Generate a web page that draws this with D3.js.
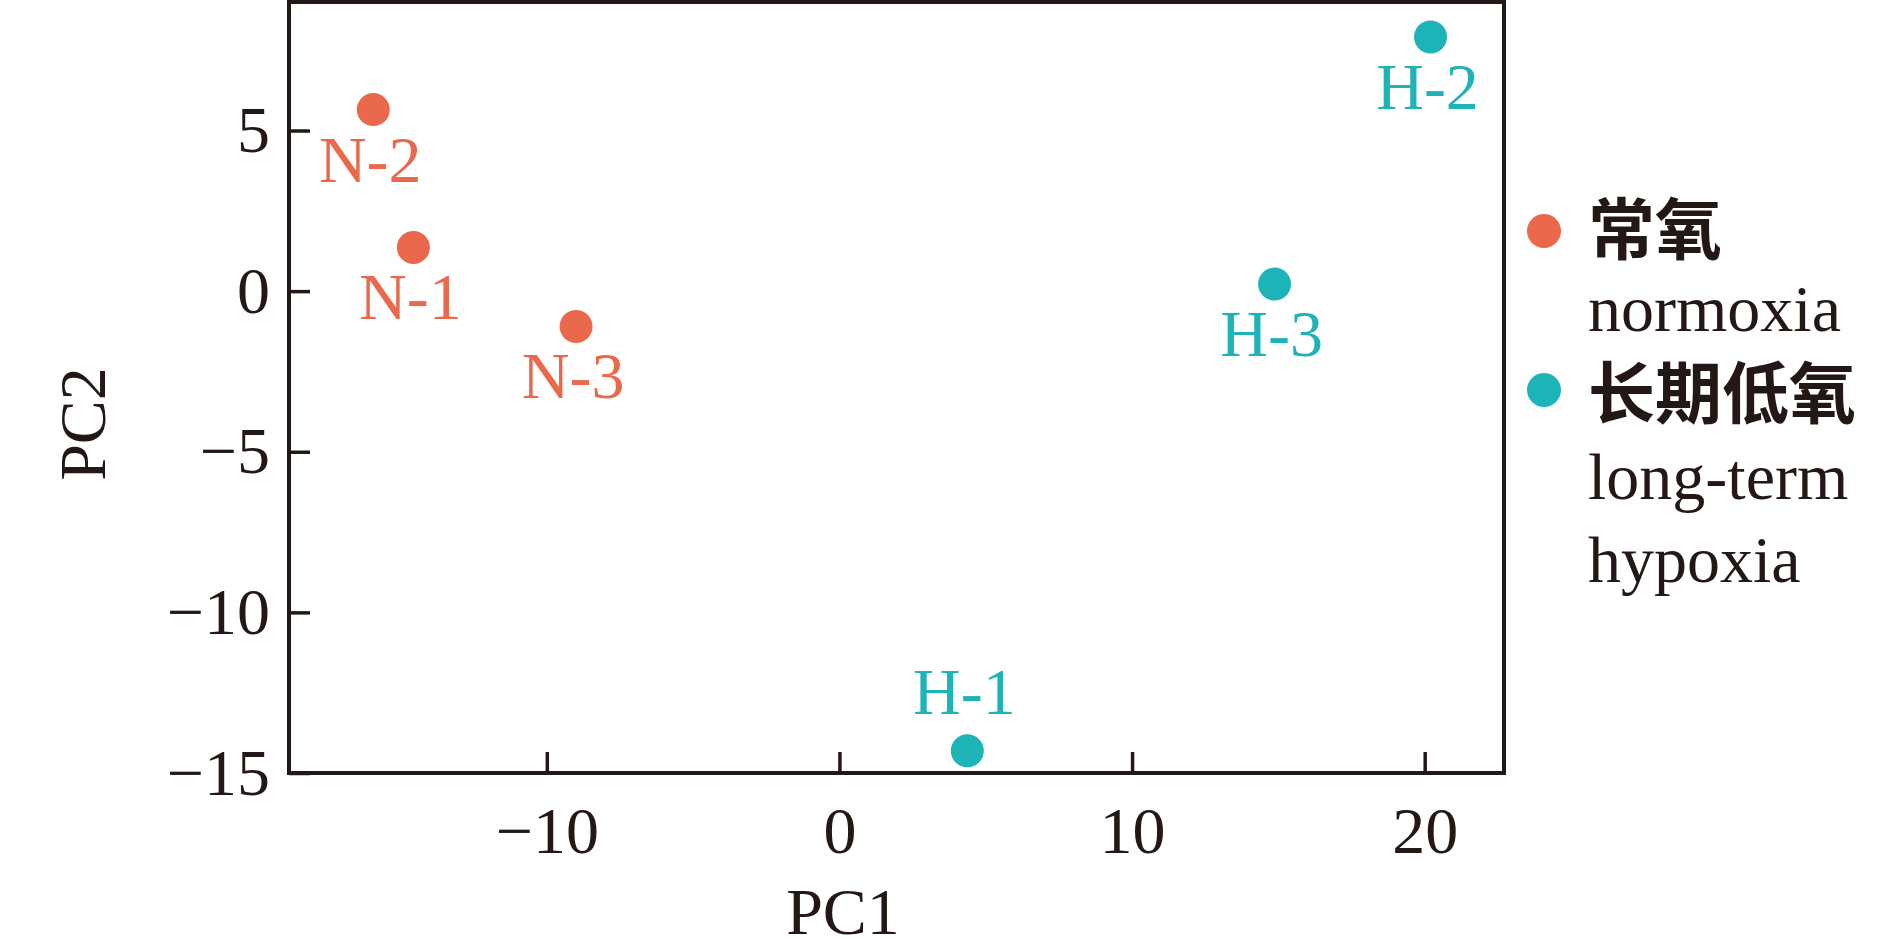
<!DOCTYPE html>
<html>
<head>
<meta charset="utf-8">
<script src="https://cdn.jsdelivr.net/npm/d3@7"></script>
<style>
  html, body { margin: 0; padding: 0; background: #fff; }
  svg { display: block; }
  text { font-family: "Liberation Serif", "Times New Roman", serif; fill: #231815; }
</style>
</head>
<body>
<svg id="chart" width="1890" height="949"></svg>
<script>
// ---- data ----
const sampleLabels = ["N-1", "N-2", "N-3", "H-1", "H-2", "H-3"];
const pc1Values    = [-14.56, -15.93, -9.0, 4.37, 20.2, 14.87];
const pc2Values    = [1.36, 5.65, -1.10, -14.31, 7.91, 0.22];
const sampleGroups = ["normoxia", "normoxia", "normoxia", "hypoxia", "hypoxia", "hypoxia"];
const labelAbove   = [false, false, false, true, false, false];

const groupKeys    = ["normoxia", "hypoxia"];
const groupNamesZh = ["常氧", "长期低氧"];
const groupNamesEn = [["normoxia"], ["long-term", "hypoxia"]];
const groupColors  = ["#EA684B", "#1DB4B8"];

const xTicks = [-10, 0, 10, 20];
const yTicks = [-15, -10, -5, 0, 5];
const xDomain = [-18.81, 22.71];
const yDomain = [-15, 9];
const xTitle = "PC1";
const yTitle = "PC2";

// ---- layout ----
const plot = { left: 289, right: 1504, top: 2, bottom: 773 };
const ink = "#231815";

const svg = d3.select("#chart");
svg.append("rect").attr("width", 1890).attr("height", 949).attr("fill", "#fff");

const x = d3.scaleLinear().domain(xDomain).range([plot.left, plot.right]);
const y = d3.scaleLinear().domain(yDomain).range([plot.bottom, plot.top]);
const color = d3.scaleOrdinal().domain(groupKeys).range(groupColors);
const fmt = d3.format("d");

// axes
const xAxis = svg.append("g")
  .attr("transform", `translate(0,${plot.bottom})`)
  .call(d3.axisBottom(x).tickValues(xTicks).tickSize(-21).tickSizeOuter(0).tickFormat(fmt));
const yAxis = svg.append("g")
  .attr("transform", `translate(${plot.left},0)`)
  .call(d3.axisLeft(y).tickValues(yTicks).tickSize(-21).tickSizeOuter(0).tickFormat(fmt));

[xAxis, yAxis].forEach(g => {
  g.select(".domain").remove();
  g.selectAll(".tick line").attr("stroke", ink).attr("stroke-width", 3.5);
  g.selectAll(".tick text")
    .attr("fill", ink)
    .style("font-family", '"Liberation Serif", "Times New Roman", serif')
    .style("font-size", "66px");
});
xAxis.selectAll(".tick text").attr("y", 80).attr("dy", 0);
yAxis.selectAll(".tick text").attr("x", -19).attr("dy", "0.32em");

// frame
svg.append("rect")
  .attr("x", plot.left).attr("y", plot.top)
  .attr("width", plot.right - plot.left).attr("height", plot.bottom - plot.top)
  .attr("fill", "none").attr("stroke", ink).attr("stroke-width", 4);

// axis titles
svg.append("text")
  .attr("transform", `translate(843,934)`)
  .attr("text-anchor", "middle")
  .style("font-size", "66px")
  .text(xTitle);
svg.append("text")
  .attr("transform", `translate(105,424) rotate(-90)`)
  .attr("text-anchor", "middle")
  .style("font-size", "66px")
  .text(yTitle);

// points
const data = sampleLabels.map((lab, i) => ({
  label: lab, pc1: pc1Values[i], pc2: pc2Values[i], group: sampleGroups[i], above: labelAbove[i]
}));

svg.append("g").selectAll("circle")
  .data(data).join("circle")
  .attr("cx", d => x(d.pc1))
  .attr("cy", d => y(d.pc2))
  .attr("r", 16.5)
  .attr("fill", d => color(d.group));

svg.append("g").selectAll("text")
  .data(data).join("text")
  .attr("x", d => x(d.pc1) - 3)
  .attr("y", d => y(d.pc2) + (d.above ? -37 : 72))
  .attr("text-anchor", "middle")
  .style("font-size", "66px")
  .style("fill", d => color(d.group))
  .text(d => d.label);

// legend
const legendDotX = 1544;
const legendTextX = 1588;
const legendDotY = [231, 390];
const legendZhBaseline = [254, 418];
const legendEnFirstBaseline = [331, 499];
const legendLineGap = 83;

groupKeys.forEach((k, i) => {
  svg.append("circle")
    .attr("cx", legendDotX).attr("cy", legendDotY[i]).attr("r", 17)
    .attr("fill", color(k));
  svg.append("text")
    .attr("x", legendTextX).attr("y", legendZhBaseline[i])
    .style("font-family", '"Noto Sans CJK SC", sans-serif')
    .style("font-weight", 700)
    .style("font-size", "67px")
    .text(groupNamesZh[i]);
  groupNamesEn[i].forEach((line, j) => {
    svg.append("text")
      .attr("x", legendTextX).attr("y", legendEnFirstBaseline[i] + j * legendLineGap)
      .style("font-size", "66px")
      .text(line);
  });
});
</script>
</body>
</html>
